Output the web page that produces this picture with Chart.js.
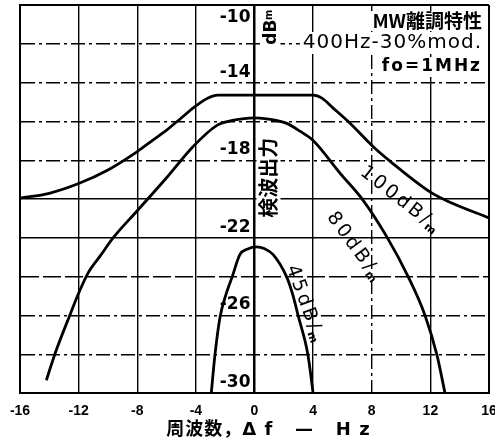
<!DOCTYPE html>
<html>
<head>
<meta charset="utf-8">
<script src="https://cdn.jsdelivr.net/npm/chart.js@4.4.1/dist/chart.umd.min.js"></script>
<style>
  html, body { margin: 0; padding: 0; background: #fff; }
</style>
</head>
<body>
<canvas id="chart" width="495" height="443"></canvas>
<script>
// 100 dB/m curve
const x100 = [-16, -14, -12, -10, -8, -7, -6, -5, -4, -3.2, -2.5, 4, 4.6, 5.35, 6.5, 8.1, 9.24, 12, 13.3, 16];
const y100 = [-19.95, -19.7, -19.2, -18.5, -17.55, -17.0, -16.45, -15.82, -15.2, -14.8, -14.64, -14.64, -14.8, -15.3, -16.08, -17.3, -18.04, -19.64, -20.15, -20.97];

// 80 dB/m curve
const x80 = [-14.2, -13.6, -12.6, -12, -11.35, -10.5, -9.65, -8, -6, -4.2, -2.56, -1.4, -0.7, 0, 0.7, 1.4, 2.2, 3.1, 4, 5.83, 7.4, 9.04, 10.5, 11.63, 12.45, 13];
const y80 = [-29.33, -27.94, -25.98, -24.85, -23.8, -22.9, -22.0, -20.6, -18.9, -17.3, -16.2, -15.93, -15.85, -15.82, -15.85, -15.93, -16.1, -16.5, -16.98, -18.66, -20.05, -21.96, -24.02, -25.98, -28.04, -30];

// 45 dB/m curve
const x45 = [-2.95, -2.7, -2.35, -1.94, -1.53, -0.99, -0.5, 0.13, 0.7, 1.26, 2.2, 2.6, 2.97, 3.65, 4.0];
const y45 = [-30, -28.04, -26.08, -24.9, -24.02, -22.85, -22.58, -22.46, -22.56, -22.85, -24.02, -24.9, -25.98, -28.04, -30];

const yTickLabels = [-10, -14, -18, -22, -26, -30];
const titleLines = ['MW離調特性', '400Hz-30%mod.', 'fo=1MHz'];
const xTitle = '周波数，Δ f   —   H z';
const yTitle = '検波出力';
const yUnit = 'dB';
const curveNames = ['100dB/', '80dB/', '45dB/'];

const LAT = '"DejaVu Sans", "Noto Sans CJK JP", sans-serif';
const JP = '"Noto Sans CJK JP", "DejaVu Sans", sans-serif';

function toPoints(xs, ys) {
  return xs.map((x, i) => ({ x: x, y: ys[i] }));
}

function lineSet(xs, ys) {
  return {
    data: toPoints(xs, ys),
    borderColor: '#000',
    borderWidth: 2.8,
    pointRadius: 0,
    fill: false,
    cubicInterpolationMode: 'monotone'
  };
}

function putText(ctx, text, x, y, o) {
  ctx.save();
  ctx.translate(x, y);
  if (o.rot) ctx.rotate(o.rot * Math.PI / 180);
  ctx.font = o.font;
  ctx.letterSpacing = o.spacing || '0px';
  ctx.textAlign = o.align || 'center';
  ctx.textBaseline = o.base || 'middle';
  if (o.bg) {
    const w = ctx.measureText(text).width;
    const h = o.bg;
    const left = o.align === 'right' ? -w : (o.align === 'left' ? 0 : -w / 2);
    ctx.fillStyle = '#fff';
    ctx.fillRect(left - 3, -h / 2, w + 6, h);
  }
  ctx.fillStyle = '#000';
  ctx.fillText(text, 0, 0);
  ctx.restore();
}

// label along a curve, with the small "m" after the slash
function curveLabel(ctx, text, x, y, deg) {
  ctx.save();
  ctx.translate(x, y);
  ctx.rotate(deg * Math.PI / 180);
  ctx.font = '19px ' + LAT;
  ctx.letterSpacing = '3px';
  ctx.textBaseline = 'middle';
  ctx.textAlign = 'left';
  const w = ctx.measureText(text).width;
  ctx.font = 'bold 11px ' + LAT;
  const wm = ctx.measureText('m').width;
  const start = -(w + wm) / 2;
  ctx.fillStyle = '#000';
  ctx.font = '19px ' + LAT;
  ctx.fillText(text, start, 0);
  ctx.font = 'bold 11px ' + LAT;
  ctx.letterSpacing = '0px';
  ctx.fillText('m', start + w - 2, 5);
  ctx.restore();
}

const annotations = {
  id: 'annotations',
  afterDraw(chart) {
    const ctx = chart.ctx;
    const xs = chart.scales.x;
    const ys = chart.scales.y;
    const area = chart.chartArea;
    const axisX = xs.getPixelForValue(0);

    // y tick labels next to the centre axis
    yTickLabels.forEach(v => {
      const py = ys.getPixelForValue(v);
      const top = v === -10;
      putText(ctx, String(v), axisX - 4, top ? py + 4 : py - 2,
        { font: 'bold 17px ' + LAT, align: 'right', base: top ? 'top' : 'bottom' });
    });

    // unit and title of the y axis, vertical
    putText(ctx, yUnit, axisX + 17, ys.getPixelForValue(-11.4), { font: 'bold 17px ' + LAT, rot: -90, bg: 18 });
    putText(ctx, 'm', axisX + 15, ys.getPixelForValue(-10.5), { font: 'bold 10px ' + LAT, rot: -90 });
    putText(ctx, yTitle, axisX + 14, ys.getPixelForValue(-18.9), { font: 'bold 20px ' + JP, rot: -90, bg: 24 });

    // title block, top right
    const right = area.right - 7;
    putText(ctx, titleLines[0], right, area.top + 16, { font: 'bold 19px ' + JP, align: 'right', bg: 20 });
    putText(ctx, titleLines[1], right, area.top + 38, { font: '20px ' + LAT, align: 'right', spacing: '1px', bg: 22 });
    putText(ctx, titleLines[2], right, area.top + 62, { font: 'bold 17px ' + LAT, align: 'right', spacing: '2px', bg: 20 });

    // curve names
    curveLabel(ctx, curveNames[0], xs.getPixelForValue(10.05), ys.getPixelForValue(-20.1), 38);
    curveLabel(ctx, curveNames[1], xs.getPixelForValue(6.9), ys.getPixelForValue(-22.55), 54);
    curveLabel(ctx, curveNames[2], xs.getPixelForValue(3.5), ys.getPixelForValue(-25.5), 70);

    // x axis title
    putText(ctx, xTitle, xs.getPixelForValue(0.95), area.bottom + 37, { font: 'bold 18px ' + LAT, spacing: '1px' });
  }
};

function yDash(v) {
  if (v === -10 || v === -30 || v === -20 || v === -22) return [];
  if (v === -24) return [18, 4];
  return [14, 4, 3, 4];
}

new Chart(document.getElementById('chart').getContext('2d'), {
  type: 'line',
  data: {
    datasets: [lineSet(x100, y100), lineSet(x80, y80), lineSet(x45, y45)]
  },
  options: {
    responsive: false,
    animation: false,
    layout: { padding: { left: 20, right: 6, top: 5, bottom: 13 } },
    plugins: {
      legend: { display: false },
      tooltip: { enabled: false }
    },
    scales: {
      x: {
        type: 'linear',
        min: -16,
        max: 16,
        ticks: {
          stepSize: 4,
          autoSkip: false,
          maxRotation: 0,
          padding: 10,
          color: '#000',
          font: { family: 'Liberation Sans', size: 14, weight: 'bold' }
        },
        grid: {
          color: '#000',
          drawTicks: false,
          lineWidth: c => {
            const v = c.tick ? c.tick.value : 0;
            if (Math.abs(v) === 16) return 2;
            if (v === 0) return 2.5;
            return 1.4;
          }
        },
        border: {
          display: true,
          color: '#000',
          width: 2,
          dash: c => (c.tick && c.tick.value === 8 ? [14, 4, 3, 4] : [])
        },
        afterFit: s => { s.paddingLeft = 0; s.paddingRight = 0; }
      },
      y: {
        min: -30,
        max: -10,
        ticks: { stepSize: 2, display: false },
        grid: {
          color: '#000',
          drawTicks: false,
          lineWidth: c => (c.tick && (c.tick.value === -10 || c.tick.value === -30) ? 2 : 1.4)
        },
        border: {
          display: true,
          color: '#000',
          width: 2,
          dash: c => (c.tick ? yDash(c.tick.value) : [])
        }
      }
    }
  },
  plugins: [annotations]
});
</script>
</body>
</html>
